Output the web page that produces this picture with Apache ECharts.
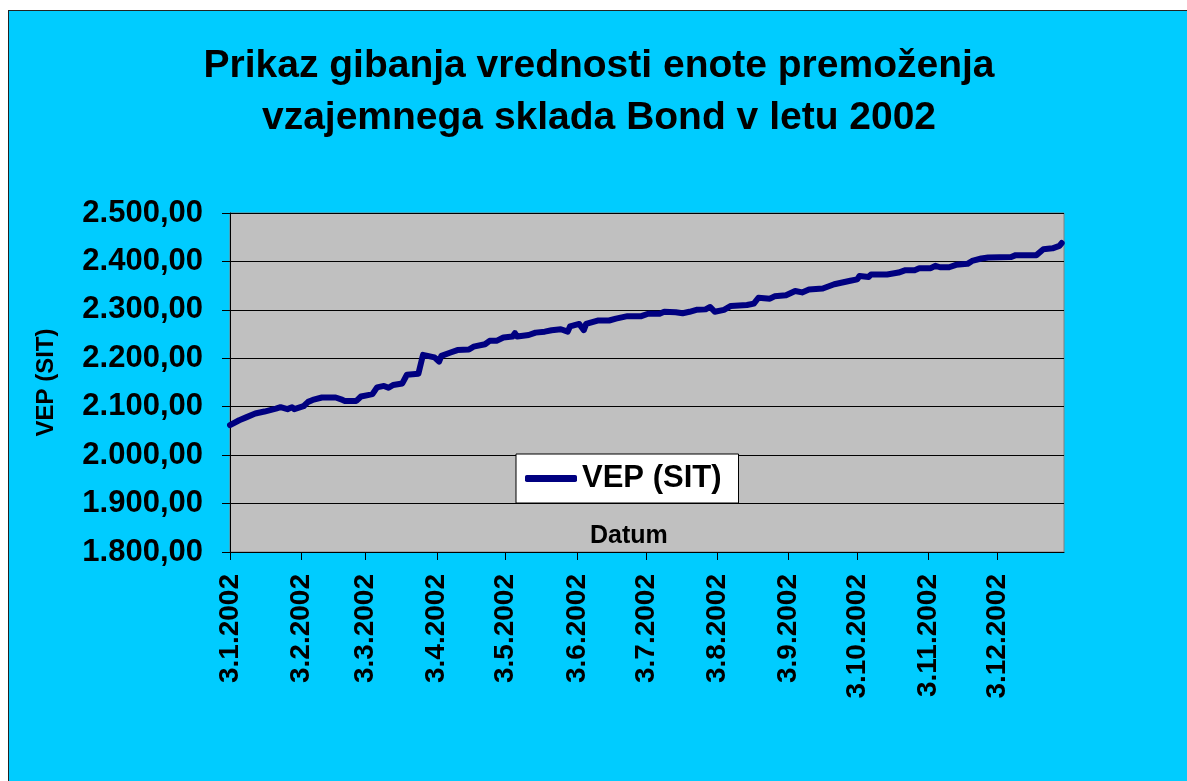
<!DOCTYPE html>
<html>
<head>
<meta charset="utf-8">
<script src="https://cdn.jsdelivr.net/npm/echarts@6/dist/echarts.min.js"></script>
<style>
  html, body { margin: 0; padding: 0; background: #fff; overflow: hidden; }
  #chart { position: absolute; left: 8px; top: 10px; width: 1180px; height: 771px; border: 1px solid #222; background: #00ccff; }
</style>
</head>
<body>
<div id="chart"></div>
<script>
// dnevne vrednosti VEP (odčitane s slike)
const dates = [
  '2002-01-03','2002-01-07','2002-01-10','2002-01-14','2002-01-18','2002-01-23','2002-01-25','2002-01-28','2002-01-30','2002-01-31',
  '2002-02-04','2002-02-06','2002-02-08','2002-02-12','2002-02-18','2002-02-21','2002-02-22','2002-02-27',
  '2002-03-01','2002-03-04','2002-03-06','2002-03-08','2002-03-11','2002-03-13','2002-03-15','2002-03-19','2002-03-21','2002-03-26','2002-03-28',
  '2002-04-02','2002-04-04','2002-04-05','2002-04-09','2002-04-12','2002-04-17','2002-04-19','2002-04-24','2002-04-26','2002-04-29',
  '2002-05-02','2002-05-06','2002-05-07','2002-05-08','2002-05-13','2002-05-16','2002-05-20','2002-05-23','2002-05-27','2002-05-30','2002-05-31',
  '2002-06-04','2002-06-06','2002-06-07','2002-06-12','2002-06-17','2002-06-20','2002-06-25',
  '2002-07-01','2002-07-04','2002-07-09','2002-07-11','2002-07-16','2002-07-19','2002-07-22','2002-07-25','2002-07-29','2002-07-31',
  '2002-08-02','2002-08-06','2002-08-09','2002-08-16','2002-08-19','2002-08-21','2002-08-26','2002-08-28',
  '2002-09-02','2002-09-06','2002-09-09','2002-09-12','2002-09-18','2002-09-23','2002-09-30',
  '2002-10-03','2002-10-04','2002-10-08','2002-10-09','2002-10-16','2002-10-21','2002-10-24','2002-10-28','2002-10-30',
  '2002-11-04','2002-11-06','2002-11-08','2002-11-12','2002-11-15','2002-11-20','2002-11-22','2002-11-26','2002-11-29',
  '2002-12-09','2002-12-11','2002-12-20','2002-12-23','2002-12-27','2002-12-30','2002-12-31'
];
const values = [
  2062, 2072, 2078, 2086, 2090, 2096, 2099, 2095, 2099, 2095,
  2101, 2110, 2114, 2119, 2119, 2114, 2112, 2112,
  2121, 2124, 2126, 2140, 2143, 2139, 2145, 2148, 2166, 2168, 2207,
  2202, 2193, 2205, 2212, 2217, 2218, 2224, 2229, 2236, 2236,
  2243, 2245, 2252, 2245, 2248, 2253, 2255, 2258, 2260, 2255, 2266,
  2271, 2258, 2271, 2278, 2278, 2282, 2287,
  2287, 2292, 2292, 2296, 2295, 2293, 2296, 2300, 2301, 2306,
  2296, 2300, 2308, 2310, 2313, 2325, 2323, 2328,
  2330, 2339, 2336, 2342, 2344, 2353, 2360,
  2363, 2370, 2368, 2373, 2373, 2377, 2382, 2382, 2386,
  2386, 2391, 2388, 2388, 2393, 2395, 2401, 2406, 2408,
  2409, 2413, 2413, 2425, 2427, 2432, 2438
];
const tickDates = [
  '2002-01-03','2002-02-03','2002-03-03','2002-04-03','2002-05-03','2002-06-03',
  '2002-07-03','2002-08-03','2002-09-03','2002-10-03','2002-11-03','2002-12-03'
];
const axisStart = '2002-01-03';
const axisEnd = '2003-01-01';

function toTime(s) {
  const p = s.split('-');
  return new Date(+p[0], +p[1] - 1, +p[2]).getTime();
}
function fmtDate(v) {
  const d = new Date(v);
  return d.getDate() + '.' + (d.getMonth() + 1) + '.' + d.getFullYear();
}
function fmtNum(v) {
  const th = Math.floor(v / 1000);
  return th + '.' + String(v % 1000).padStart(3, '0') + ',00';
}

const font = "'Liberation Sans', Arial, sans-serif";
const ticks = tickDates.map(toTime);

const chart = echarts.init(document.getElementById('chart'));
chart.setOption({
  backgroundColor: '#00ccff',
  animation: false,
  textStyle: { fontFamily: font },
  title: [{
    text: 'Prikaz gibanja vrednosti enote premoženja\nvzajemnega sklada Bond v letu 2002',
    left: 'center',
    top: 24,
    textStyle: { fontSize: 39, fontWeight: 'bold', color: '#000', lineHeight: 52, fontFamily: font }
  }, {
    text: 'Datum',
    left: 576,
    top: 508,
    textStyle: { fontSize: 25, fontWeight: 'bold', color: '#000', fontFamily: font }
  }],
  legend: {
    left: 507,
    top: 443,
    padding: [9, 17, 9, 9],
    backgroundColor: '#fff',
    borderColor: '#000',
    borderWidth: 1,
    icon: 'roundRect',
    itemWidth: 52,
    itemHeight: 7,
    textStyle: { fontSize: 31, fontWeight: 'bold', color: '#000', fontFamily: font },
    data: ['VEP (SIT)']
  },
  grid: {
    left: 221,
    top: 202,
    right: 125,
    bottom: 230,
    show: true,
    backgroundColor: '#c0c0c0',
    borderColor: '#808080',
    borderWidth: 1
  },
  xAxis: {
    // datumska os kot številska (ms), oznake ob 3. v mesecu
    type: 'value',
    min: toTime(axisStart),
    max: toTime(axisEnd),
    axisLine: { lineStyle: { color: '#000', width: 1 } },
    axisTick: { show: true, length: 8, lineStyle: { color: '#000' }, customValues: ticks },
    axisLabel: {
      customValues: ticks,
      rotate: 90,
      margin: 22,
      fontSize: 28,
      fontWeight: 'bold',
      color: '#000',
      fontFamily: font,
      formatter: fmtDate
    },
    splitLine: { show: false }
  },
  yAxis: {
    type: 'value',
    min: 1800,
    max: 2500,
    interval: 100,
    name: 'VEP (SIT)',
    nameLocation: 'middle',
    nameGap: 172,
    nameTextStyle: { fontSize: 24, fontWeight: 'bold', color: '#000', fontFamily: font },
    axisLine: { show: true, lineStyle: { color: '#000', width: 1 } },
    axisTick: { show: true, length: 8, lineStyle: { color: '#000' } },
    axisLabel: { margin: 27, fontSize: 31, fontWeight: 'bold', color: '#000', fontFamily: font, formatter: fmtNum },
    splitLine: { show: true, lineStyle: { color: '#000', width: 1 } }
  },
  series: [{
    name: 'VEP (SIT)',
    type: 'line',
    symbol: 'none',
    data: dates.map((d, i) => [toTime(d), values[i]]),
    lineStyle: { color: '#000080', width: 6, cap: 'round', join: 'round' },
    itemStyle: { color: '#000080' }
  }]
});
</script>
</body>
</html>
